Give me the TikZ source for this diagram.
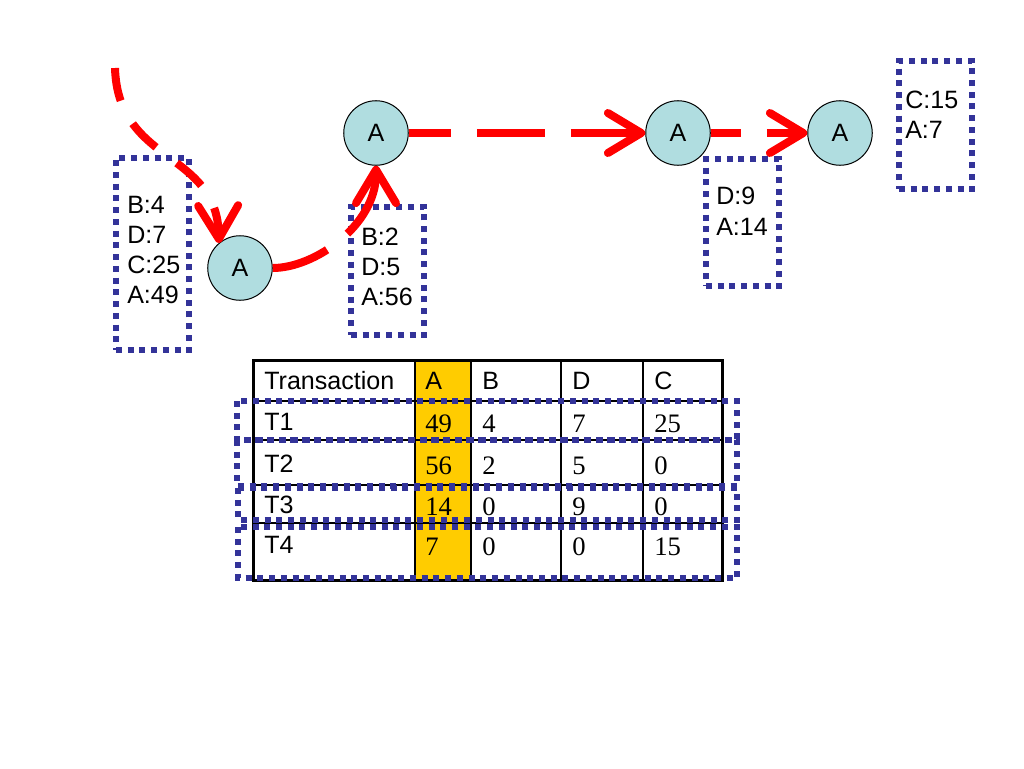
\documentclass[tikz,border=0pt]{standalone}
\usepackage{fontspec}
\setmainfont{Liberation Serif}
\setsansfont{Liberation Sans}
\usetikzlibrary{arrows.meta}
\definecolor{arrowred}{RGB}{255,0,0}
\definecolor{dotblue}{RGB}{51,51,153}
\definecolor{itemblue}{RGB}{176,221,224}
\definecolor{colyellow}{RGB}{255,204,0}
\tikzset{
  item/.style={circle,draw,fill=itemblue,line width=0.75pt,minimum size=48.4pt,inner sep=0pt,font=\sffamily\fontsize{18.8}{22}\selectfont},
  lbl/.style={anchor=base west,inner sep=0pt,font=\sffamily\fontsize{18.8}{22}\selectfont},
  num/.style={anchor=base west,inner sep=0pt,font=\rmfamily\fontsize{20}{24}\selectfont},
  dotbox/.style={draw=dotblue,line width=4.5pt,dash pattern=on 4.5pt off 4.3pt},
  listbox/.style={dotbox,minimum width=54.75pt,inner sep=0pt},
  link/.style={draw=arrowred,line width=6pt,-{Straight Barb[length=25pt,width=30pt,round]}},
}
\begin{document}
\begin{tikzpicture}[x=0.75pt,y=-0.75pt]
      \useasboundingbox (0,0) rectangle (1024,768);
      \def\colx{{264,425,482,572,654}}
      \node[listbox,minimum height=144pt] (box1) at (152.5,254) {};
      \node[listbox,minimum height=96pt] (box2) at (387.5,271) {};
      \node[listbox,minimum height=95.25pt] (box3) at (742.5,222.5) {};
      \node[listbox,minimum height=96pt] (box4) at (935.5,125) {};
      \foreach \s [count=\i] in {B:4,D:7,C:25,A:49}
      \node[lbl] (l1\i) at (127,183+30*\i) {\s};
      \foreach \s [count=\i] in {B:2,D:5,A:56}
      \node[lbl] (l2\i) at (361,215+30*\i) {\s};
      \foreach \s [count=\i] in {D:9,A:14}
      \node[lbl] (l3\i) at (716,173+31*\i) {\s};
      \foreach \s [count=\i] in {C:15,A:7}
      \node[lbl] (l4\i) at (905,78+30*\i) {\s};
      \node[item] (A1) at (240,268) {A};
      \node[item] (A2) at (376,133) {A};
      \node[item] (A3) at (678,133) {A};
      \node[item] (A4) at (840,133) {A};
      \coordinate (start) at (115,68);
      \draw[link,dash pattern=on 25pt off 19.5pt] (start) .. controls (118,165) and (217,150) .. (A1.130);
      \draw[link,dash pattern=on 51pt off 19.5pt,dash phase=7.5pt] (A1.east) .. controls (315,268) and (376,225) .. (A2.south);
      \draw[link,dash pattern=on 51pt off 19.5pt,dash phase=19.5pt] (A2) -- (A3);
      \draw[link,dash pattern=on 51pt off 19.5pt,dash phase=28.5pt] (A3) -- (A4);
      \fill[colyellow] (415,360) rectangle (471,580);
      \foreach \y in {401,440,485,523}
      \draw[line width=1.1pt] (253,\y) -- (722,\y);
      \foreach \x in {415,471,561,643}
      \draw[line width=1.1pt] (\x,360) -- (\x,580);
      \draw[line width=2.25pt] (253,360) rectangle (722,580);
      \foreach \h [count=\i from 0] in {Transaction,A,B,D,C}
      \node[lbl] (h\i) at ({\colx[\i]},389) {\h};
      \foreach \t/\y/\a/\b/\d/\c in {T1/430/49/4/7/25,T2/472/56/2/5/0,T3/513/14/0/9/0,T4/553/7/0/0/15}{
      \node[lbl] (\t) at (264,\y) {\t};
      \node[num] (\t a) at (425,\y+2) {\a};
      \node[num] (\t b) at (482,\y+2) {\b};
      \node[num] (\t d) at (572,\y+2) {\d};
      \node[num] (\t c) at (654,\y+2) {\c};
      }
      \draw[dotbox] (237,401) rectangle (737,440);
      \draw[dotbox] (237,440) rectangle (737,486);
      \draw[dotbox] (238,488) rectangle (737,520);
      \draw[dotbox] (238,527) rectangle (737,578);
\end{tikzpicture}
\end{document}
